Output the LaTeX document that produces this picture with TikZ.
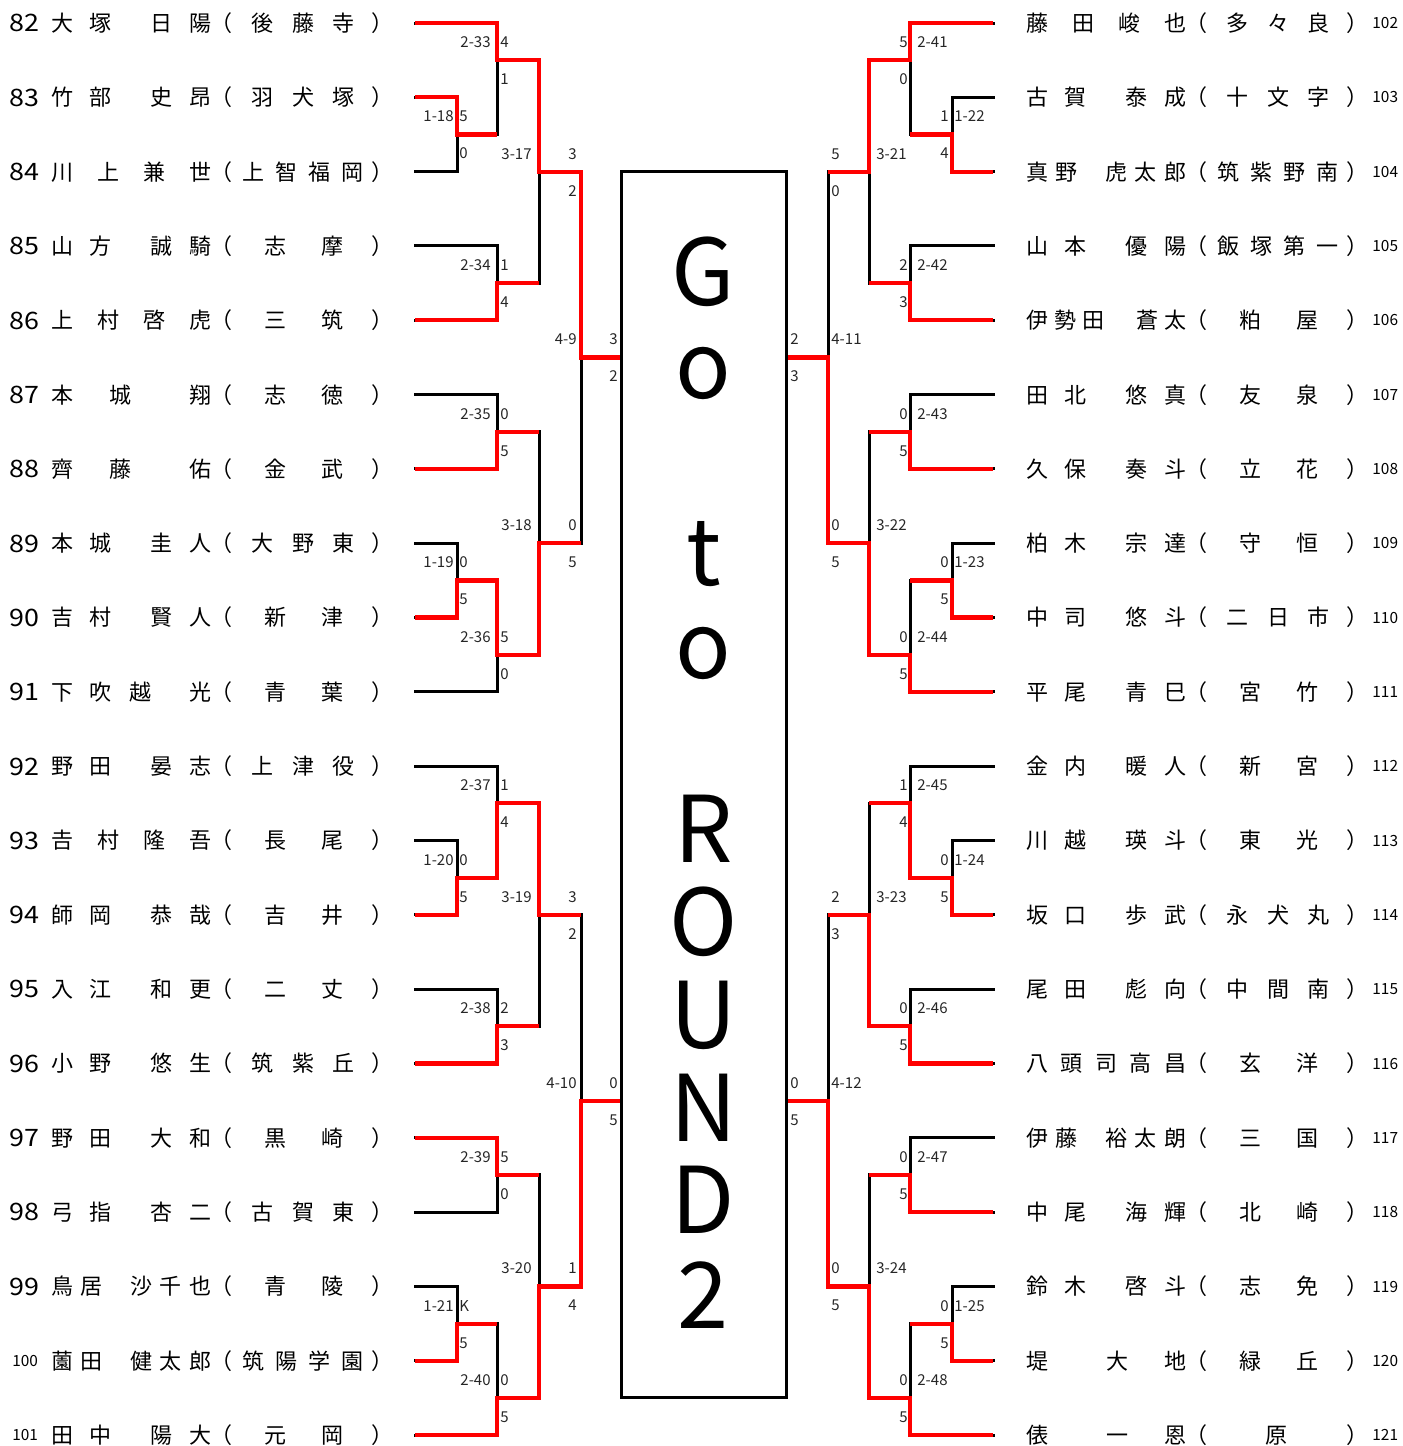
\documentclass[tikz,border=0pt]{standalone}
\usepackage{fontspec}
\setmainfont{Noto Sans CJK JP}
\def\ox{0}
\newcommand\ch[3]{\node[nm] at (#1+\ox,#2) {#3};}
\newcommand\pp[1]{\node[nm] at (221+\ox,#1) {（};\node[nm] at (382+\ox,#1) {）};}
\newcommand\widenum[1]{\scalebox{1.12}[1]{#1}}
% name templates
\newcommand\nA[5]{\ch{62}{#1}{#2}\ch{100}{#1}{#3}\ch{161}{#1}{#4}\ch{200}{#1}{#5}}
\newcommand\nB[5]{\ch{62}{#1}{#2}\ch{108}{#1}{#3}\ch{154}{#1}{#4}\ch{200}{#1}{#5}}
\newcommand\nC[4]{\ch{62}{#1}{#2}\ch{120}{#1}{#3}\ch{200}{#1}{#4}}
\newcommand\nD[5]{\ch{62}{#1}{#2}\ch{100}{#1}{#3}\ch{140}{#1}{#4}\ch{200}{#1}{#5}}
\newcommand\nE[6]{\ch{62}{#1}{#2}\ch{91}{#1}{#3}\ch{141}{#1}{#4}\ch{170}{#1}{#5}\ch{200}{#1}{#6}}
\newcommand\nF[6]{\ch{62}{#1}{#2}\ch{90}{#1}{#3}\ch{118}{#1}{#4}\ch{172}{#1}{#5}\ch{200}{#1}{#6}}
\newcommand\nG[6]{\ch{62}{#1}{#2}\ch{96.5}{#1}{#3}\ch{131}{#1}{#4}\ch{165.5}{#1}{#5}\ch{200}{#1}{#6}}
\newcommand\nH[4]{\ch{62}{#1}{#2}\ch{142}{#1}{#3}\ch{200}{#1}{#4}}
% school templates
\newcommand\sA[2]{\pp{#1}\ch{301.5}{#1}{#2}}
\newcommand\sB[3]{\pp{#1}\ch{275}{#1}{#2}\ch{332}{#1}{#3}}
\newcommand\sC[4]{\pp{#1}\ch{262}{#1}{#2}\ch{303}{#1}{#3}\ch{343}{#1}{#4}}
\newcommand\sD[5]{\pp{#1}\ch{253}{#1}{#2}\ch{286}{#1}{#3}\ch{319}{#1}{#4}\ch{352}{#1}{#5}}
% match labels
\newcommand\mt[8]{\node[sc,anchor=#2] at (#1,#5-18) {#6};\node[sc,anchor=#4] at (#3,#5-18) {#7};\node[sc,anchor=#4] at (#3,#5+19) {#8};}
\begin{document}
\begin{tikzpicture}[x=0.5pt,y=-0.5pt,
  blk/.style={line width=1.5pt,line cap=rect,line join=miter,draw=black},
  win/.style={line width=2.1pt,line join=miter,draw=red},
  nm/.style={inner sep=0pt,font=\fontsize{11}{11}\selectfont,text height=9.7pt,text depth=1.3pt},
  num/.style={inner sep=0pt,anchor=west,font=\fontsize{12}{12}\selectfont,text height=8.8pt,text depth=0pt},
  snum/.style={inner sep=0pt,anchor=west,font=\fontsize{7.7}{7.7}\selectfont,text height=5.6pt,text depth=0pt},
  sc/.style={inner sep=0pt,text=black!85,font=\fontsize{7.5}{7.5}\selectfont,text height=5.5pt,text depth=0pt},
  big/.style={inner sep=0pt,anchor=base,font=\fontsize{46}{46}\selectfont}]
\useasboundingbox (0,0) rectangle (1403,1446);
% ---------- black bracket structure (both sides) ----------
\foreach \E/\A/\B/\C/\D/\X in {415/457/497/539/581/621, 993/952/910/869/828/786}{
 \draw[blk] (\E,97.32) -- (\A,97.32) -- (\A,171.64) -- (\E,171.64);
 \draw[blk] (\A,134.48) -- (\B,134.48);
 \draw[blk] (\E,23) -- (\B,23) -- (\B,134.48);
 \draw[blk] (\B,60.16) -- (\C,60.16);
 \draw[blk] (\E,245.96) -- (\B,245.96) -- (\B,320.28) -- (\E,320.28);
 \draw[blk] (\B,283.12) -- (\C,283.12);
 \draw[blk] (\C,60.16) -- (\C,283.12);
 \draw[blk] (\C,171.64) -- (\D,171.64) -- (\D,543.24);
 \draw[blk] (\D,357.44) -- (\X,357.44);
 \draw[blk] (\E,394.6) -- (\B,394.6) -- (\B,468.92) -- (\E,468.92);
 \draw[blk] (\B,431.76) -- (\C,431.76);
 \draw[blk] (\E,543.24) -- (\A,543.24) -- (\A,617.56) -- (\E,617.56);
 \draw[blk] (\A,580.4) -- (\B,580.4) -- (\B,691.88) -- (\E,691.88);
 \draw[blk] (\B,654.72) -- (\C,654.72);
 \draw[blk] (\C,431.76) -- (\C,654.72);
 \draw[blk] (\C,543.24) -- (\D,543.24);
 \draw[blk] (\E,766.2) -- (\B,766.2) -- (\B,877.68);
 \draw[blk] (\B,803.36) -- (\C,803.36);
 \draw[blk] (\E,840.52) -- (\A,840.52) -- (\A,914.84) -- (\E,914.84);
 \draw[blk] (\A,877.68) -- (\B,877.68);
 \draw[blk] (\E,989.16) -- (\B,989.16) -- (\B,1063.48) -- (\E,1063.48);
 \draw[blk] (\B,1026.32) -- (\C,1026.32);
 \draw[blk] (\C,803.36) -- (\C,1026.32);
 \draw[blk] (\C,914.84) -- (\D,914.84) -- (\D,1286.44);
 \draw[blk] (\D,1100.64) -- (\X,1100.64);
 \draw[blk] (\E,1137.8) -- (\B,1137.8) -- (\B,1212.12) -- (\E,1212.12);
 \draw[blk] (\B,1174.96) -- (\C,1174.96);
 \draw[blk] (\E,1286.44) -- (\A,1286.44) -- (\A,1360.76) -- (\E,1360.76);
 \draw[blk] (\A,1323.6) -- (\B,1323.6) -- (\B,1435.08) -- (\E,1435.08);
 \draw[blk] (\B,1397.92) -- (\C,1397.92);
 \draw[blk] (\C,1174.96) -- (\C,1397.92);
 \draw[blk] (\C,1286.44) -- (\D,1286.44);
}
% ---------- winners, left ----------
\draw[win] (415,23) -- (497,23) -- (497,60.16) -- (539,60.16) -- (539,171.64) -- (581,171.64) -- (581,357.44) -- (621,357.44);
\draw[win] (415,97.32) -- (457,97.32) -- (457,134.48) -- (497,134.48);
\draw[win] (415,320.28) -- (497,320.28) -- (497,283.12) -- (539,283.12);
\draw[win] (415,468.92) -- (497,468.92) -- (497,431.76) -- (539,431.76);
\draw[win] (415,617.56) -- (457,617.56) -- (457,580.4) -- (497,580.4) -- (497,654.72) -- (539,654.72) -- (539,543.24) -- (581,543.24);
\draw[win] (415,914.84) -- (457,914.84) -- (457,877.68) -- (497,877.68) -- (497,803.36) -- (539,803.36) -- (539,914.84) -- (581,914.84);
\draw[win] (415,1063.48) -- (497,1063.48) -- (497,1026.32) -- (539,1026.32);
\draw[win] (415,1137.8) -- (497,1137.8) -- (497,1174.96) -- (539,1174.96);
\draw[win] (415,1360.76) -- (457,1360.76) -- (457,1323.6) -- (497,1323.6);
\draw[win] (415,1435.08) -- (497,1435.08) -- (497,1397.92) -- (539,1397.92) -- (539,1286.44) -- (581,1286.44) -- (581,1100.64) -- (621,1100.64);
% ---------- winners, right ----------
\draw[win] (993,23) -- (910,23) -- (910,60.16) -- (869,60.16) -- (869,171.64) -- (828,171.64);
\draw[win] (993,171.64) -- (952,171.64) -- (952,134.48) -- (910,134.48);
\draw[win] (993,320.28) -- (910,320.28) -- (910,283.12) -- (869,283.12);
\draw[win] (993,468.92) -- (910,468.92) -- (910,431.76) -- (869,431.76);
\draw[win] (993,617.56) -- (952,617.56) -- (952,580.4) -- (910,580.4);
\draw[win] (993,691.88) -- (910,691.88) -- (910,654.72) -- (869,654.72) -- (869,543.24) -- (828,543.24) -- (828,357.44) -- (786,357.44);
\draw[win] (993,914.84) -- (952,914.84) -- (952,877.68) -- (910,877.68) -- (910,803.36) -- (869,803.36);
\draw[win] (993,1063.48) -- (910,1063.48) -- (910,1026.32) -- (869,1026.32) -- (869,914.84) -- (828,914.84);
\draw[win] (993,1212.12) -- (910,1212.12) -- (910,1174.96) -- (869,1174.96);
\draw[win] (993,1360.76) -- (952,1360.76) -- (952,1323.6) -- (910,1323.6);
\draw[win] (993,1435.08) -- (910,1435.08) -- (910,1397.92) -- (869,1397.92) -- (869,1286.44) -- (828,1286.44) -- (828,1100.64) -- (786,1100.64);
% ---------- centre box ----------
\node[draw=black,line width=1.5pt,inner sep=0pt,minimum width=82.5pt,minimum height=613.14pt] (box) at (703.5,784.78) {};
\node[big] (g1) at (703.5,305) {G};
\node[big] (g2) at (703.5,398) {o};
\node[big] (g3) at (703.5,585) {t};
\node[big] (g4) at (703.5,678) {o};
\node[big] (g5) at (703.5,862) {R};
\node[big] (g6) at (703.5,955) {O};
\node[big] (g7) at (703.5,1048) {U};
\node[big] (g8) at (703.5,1141) {N};
\node[big] (g9) at (703.5,1233) {D};
\node[big] (g10) at (703.5,1328) {2};
% ---------- match labels ----------
\mt{491}{east}{500}{west}{60.16}{2-33}{4}{1}
\mt{454}{east}{459}{west}{134.48}{1-18}{5}{0}
\mt{532}{east}{577}{east}{171.64}{3-17}{3}{2}
\mt{491}{east}{500}{west}{283.12}{2-34}{1}{4}
\mt{577}{east}{618}{east}{357.44}{4-9}{3}{2}
\mt{491}{east}{500}{west}{431.76}{2-35}{0}{5}
\mt{532}{east}{577}{east}{543.24}{3-18}{0}{5}
\mt{454}{east}{459}{west}{580.4}{1-19}{0}{5}
\mt{491}{east}{500}{west}{654.72}{2-36}{5}{0}
\mt{491}{east}{500}{west}{803.36}{2-37}{1}{4}
\mt{454}{east}{459}{west}{877.68}{1-20}{0}{5}
\mt{532}{east}{577}{east}{914.84}{3-19}{3}{2}
\mt{491}{east}{500}{west}{1026.32}{2-38}{2}{3}
\mt{577}{east}{618}{east}{1100.64}{4-10}{0}{5}
\mt{491}{east}{500}{west}{1174.96}{2-39}{5}{0}
\mt{532}{east}{577}{east}{1286.44}{3-20}{1}{4}
\mt{454}{east}{459}{west}{1323.6}{1-21}{K}{5}
\mt{491}{east}{500}{west}{1397.92}{2-40}{0}{5}
\mt{917}{west}{908}{east}{60.16}{2-41}{5}{0}
\mt{954}{west}{949}{east}{134.48}{1-22}{1}{4}
\mt{876}{west}{831}{west}{171.64}{3-21}{5}{0}
\mt{917}{west}{908}{east}{283.12}{2-42}{2}{3}
\mt{831}{west}{790}{west}{357.44}{4-11}{2}{3}
\mt{917}{west}{908}{east}{431.76}{2-43}{0}{5}
\mt{876}{west}{831}{west}{543.24}{3-22}{0}{5}
\mt{954}{west}{949}{east}{580.4}{1-23}{0}{5}
\mt{917}{west}{908}{east}{654.72}{2-44}{0}{5}
\mt{917}{west}{908}{east}{803.36}{2-45}{1}{4}
\mt{954}{west}{949}{east}{877.68}{1-24}{0}{5}
\mt{876}{west}{831}{west}{914.84}{3-23}{2}{3}
\mt{917}{west}{908}{east}{1026.32}{2-46}{0}{5}
\mt{831}{west}{790}{west}{1100.64}{4-12}{0}{5}
\mt{917}{west}{908}{east}{1174.96}{2-47}{0}{5}
\mt{876}{west}{831}{west}{1286.44}{3-24}{0}{5}
\mt{954}{west}{949}{east}{1323.6}{1-25}{0}{5}
\mt{917}{west}{908}{east}{1397.92}{2-48}{0}{5}
% ---------- left entries ----------
\foreach \n/\y in {82/23,83/97.32,84/171.64,85/245.96,86/320.28,87/394.6,88/468.92,89/543.24,90/617.56,91/691.88,92/766.2,93/840.52,94/914.84,95/989.16,96/1063.48,97/1137.8,98/1212.12,99/1286.44}
  {\node[num] (n\n) at (9,\y) {\widenum{\n}};}
\node[snum] (n100) at (12,1360.76) {100};
\node[snum] (n101) at (12,1435.08) {101};
\def\ox{0}
\nA{23}{大}{塚}{日}{陽}\sC{23}{後}{藤}{寺}
\nA{97.32}{竹}{部}{史}{昂}\sC{97.32}{羽}{犬}{塚}
\nB{171.64}{川}{上}{兼}{世}\sD{171.64}{上}{智}{福}{岡}
\nA{245.96}{山}{方}{誠}{騎}\sB{245.96}{志}{摩}
\nB{320.28}{上}{村}{啓}{虎}\sB{320.28}{三}{筑}
\nC{394.6}{本}{城}{翔}\sB{394.6}{志}{徳}
\nC{468.92}{齊}{藤}{佑}\sB{468.92}{金}{武}
\nA{543.24}{本}{城}{圭}{人}\sC{543.24}{大}{野}{東}
\nA{617.56}{吉}{村}{賢}{人}\sB{617.56}{新}{津}
\nD{691.88}{下}{吹}{越}{光}\sB{691.88}{青}{葉}
\nA{766.2}{野}{田}{晏}{志}\sC{766.2}{上}{津}{役}
\nB{840.52}{𠮷}{村}{隆}{吾}\sB{840.52}{長}{尾}
\nA{914.84}{師}{岡}{恭}{哉}\sB{914.84}{吉}{井}
\nA{989.16}{入}{江}{和}{更}\sB{989.16}{二}{丈}
\nA{1063.48}{小}{野}{悠}{生}\sC{1063.48}{筑}{紫}{丘}
\nA{1137.8}{野}{田}{大}{和}\sB{1137.8}{黒}{崎}
\nA{1212.12}{弓}{指}{杏}{二}\sC{1212.12}{古}{賀}{東}
\nE{1286.44}{鳥}{居}{沙}{千}{也}\sB{1286.44}{青}{陵}
\nE{1360.76}{薗}{田}{健}{太}{郎}\sD{1360.76}{筑}{陽}{学}{園}
\nA{1435.08}{田}{中}{陽}{大}\sB{1435.08}{元}{岡}
% ---------- right entries ----------
\foreach \n/\y in {102/23,103/97.32,104/171.64,105/245.96,106/320.28,107/394.6,108/468.92,109/543.24,110/617.56,111/691.88,112/766.2,113/840.52,114/914.84,115/989.16,116/1063.48,117/1137.8,118/1212.12,119/1286.44,120/1360.76,121/1435.08}
  {\node[snum] (n\n) at (1372,\y) {\n};}
\def\ox{975}
\nB{23}{藤}{田}{峻}{也}\sC{23}{多}{々}{良}
\nA{97.32}{古}{賀}{泰}{成}\sC{97.32}{十}{文}{字}
\nE{171.64}{真}{野}{虎}{太}{郎}\sD{171.64}{筑}{紫}{野}{南}
\nA{245.96}{山}{本}{優}{陽}\sD{245.96}{飯}{塚}{第}{一}
\nF{320.28}{伊}{勢}{田}{蒼}{太}\sB{320.28}{粕}{屋}
\nA{394.6}{田}{北}{悠}{真}\sB{394.6}{友}{泉}
\nA{468.92}{久}{保}{奏}{斗}\sB{468.92}{立}{花}
\nA{543.24}{柏}{木}{宗}{達}\sB{543.24}{守}{恒}
\nA{617.56}{中}{司}{悠}{斗}\sC{617.56}{二}{日}{市}
\nA{691.88}{平}{尾}{青}{巳}\sB{691.88}{宮}{竹}
\nA{766.2}{金}{内}{暖}{人}\sB{766.2}{新}{宮}
\nA{840.52}{川}{越}{瑛}{斗}\sB{840.52}{東}{光}
\nA{914.84}{坂}{口}{歩}{武}\sC{914.84}{永}{犬}{丸}
\nA{989.16}{尾}{田}{彪}{向}\sC{989.16}{中}{間}{南}
\nG{1063.48}{八}{頭}{司}{高}{昌}\sB{1063.48}{玄}{洋}
\nE{1137.8}{伊}{藤}{裕}{太}{朗}\sB{1137.8}{三}{国}
\nA{1212.12}{中}{尾}{海}{輝}\sB{1212.12}{北}{崎}
\nA{1286.44}{鈴}{木}{啓}{斗}\sB{1286.44}{志}{免}
\nH{1360.76}{堤}{大}{地}\sB{1360.76}{緑}{丘}
\nH{1435.08}{俵}{一}{恩}\sA{1435.08}{原}
\end{tikzpicture}
\end{document}
